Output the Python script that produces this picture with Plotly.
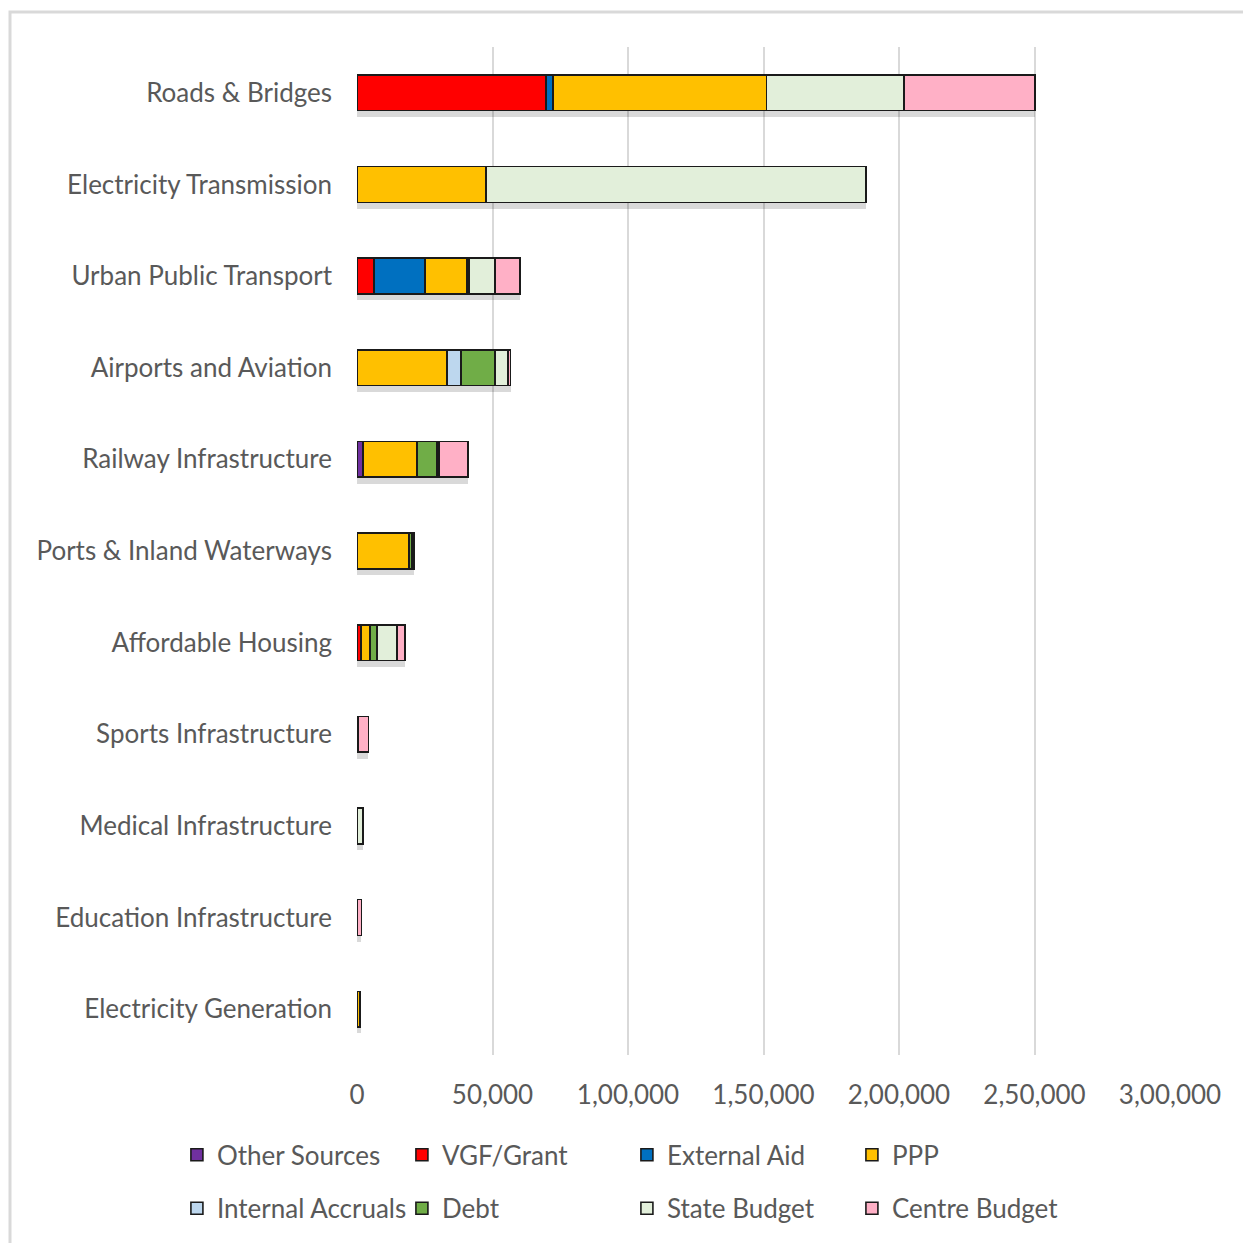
import plotly.graph_objects as go

# Infrastructure sectors (top to bottom)
categories = [
    "Roads & Bridges",
    "Electricity Transmission",
    "Urban Public Transport",
    "Airports and Aviation",
    "Railway Infrastructure",
    "Ports & Inland Waterways",
    "Affordable Housing",
    "Sports Infrastructure",
    "Medical Infrastructure",
    "Education Infrastructure",
    "Electricity Generation",
]

# Funding by source for each sector
other_sources     = [0,     0,      0,     0,     2200,  0,     0,    0,    0,    0,    0]
vgf_grant         = [69800, 0,      6300,  0,     0,     0,     1500, 0,    0,    0,    0]
external_aid      = [2500,  0,      18800, 0,     0,     0,     0,    0,    0,    0,    0]
ppp               = [78800, 47600,  15500, 33200, 19900, 19200, 3300, 400,  0,    0,    1000]
internal_accruals = [0,     0,      0,     5200,  0,     0,     0,    0,    0,    0,    0]
debt              = [0,     0,      700,   12500, 7400,  1000,  2600, 0,    0,    0,    300]
state_budget      = [50800, 140200, 9600,  4800,  700,   800,   7400, 0,    2300, 0,    0]
centre_budget     = [48300, 0,      9200,  1000,  10700, 0,     3000, 3800, 0,    1600, 0]

series = [
    ("Other Sources", other_sources, "#7030A0"),
    ("VGF/Grant", vgf_grant, "#FF0000"),
    ("External Aid", external_aid, "#0070C0"),
    ("PPP", ppp, "#FFC000"),
    ("Internal Accruals", internal_accruals, "#BDD7EE"),
    ("Debt", debt, "#70AD47"),
    ("State Budget", state_budget, "#E2EFDA"),
    ("Centre Budget", centre_budget, "#FFB0C6"),
]

tick_vals = [0, 50000, 100000, 150000, 200000, 250000, 300000]
tick_text = ["0", "50,000", "1,00,000", "1,50,000", "2,00,000", "2,50,000", "3,00,000"]

totals = [sum(vals) for vals in zip(*[s[1] for s in series])]

FONT = "Lato"
TEXT = "#595959"
FS = 26

fig = go.Figure()

# soft drop shadow under each stacked bar
fig.add_trace(go.Bar(
    y=categories, x=totals, orientation="h",
    marker=dict(color="rgba(0,0,0,0.15)", line=dict(width=0)),
    xaxis="x", yaxis="y", showlegend=False, hoverinfo="skip",
))

for i, (name, vals, color) in enumerate(series):
    fig.add_trace(go.Bar(
        y=categories, x=vals, orientation="h", name=name,
        marker=dict(color=color, line=dict(color="#1a1a1a", width=1.6)),
        xaxis="x", yaxis="y2",
        legend="legend" if i < 4 else "legend2",
    ))

n = len(categories)
shift = 0.07  # shadow offset in category units

legend_common = dict(
    orientation="h", x=-0.2215, xanchor="left", yanchor="middle",
    entrywidth=180, entrywidthmode="pixels", itemwidth=30,
    traceorder="normal", font=dict(size=FS, color=TEXT),
    bgcolor="rgba(0,0,0,0)",
)

fig.update_layout(
    width=1243, height=1243,
    margin=dict(l=357, r=73, t=47, b=187),
    paper_bgcolor="white", plot_bgcolor="white",
    barmode="stack", bargap=0.61,
    font=dict(family=FONT, color=TEXT, size=FS),
    xaxis=dict(
        range=[0, 300000], tickvals=tick_vals, ticktext=tick_text,
        showgrid=True, gridcolor="#D9D9D9", gridwidth=2,
        zeroline=False, showline=False, ticks="",
        ticklabelstandoff=22, tickfont=dict(size=FS, color=TEXT),
    ),
    yaxis=dict(
        type="category", categoryorder="array", categoryarray=categories,
        range=[n - 0.5 - shift, -0.5 - shift],
        showticklabels=False, showgrid=False, zeroline=False, showline=False,
    ),
    yaxis2=dict(
        type="category", categoryorder="array", categoryarray=categories,
        range=[n - 0.5, -0.5], overlaying="y",
        showgrid=False, zeroline=False, showline=False, ticks="",
        ticklabelstandoff=24, tickfont=dict(size=FS, color=TEXT),
    ),
    legend=dict(legend_common, y=-0.098),
    legend2=dict(legend_common, y=-0.151),
    shapes=[dict(
        type="rect", xref="paper", yref="paper",
        x0=-0.4268, x1=1.2, y0=-0.3, y1=1.0347,
        line=dict(color="#D9D9D9", width=3), layer="below",
    )],
)

fig.write_html("out.html")
